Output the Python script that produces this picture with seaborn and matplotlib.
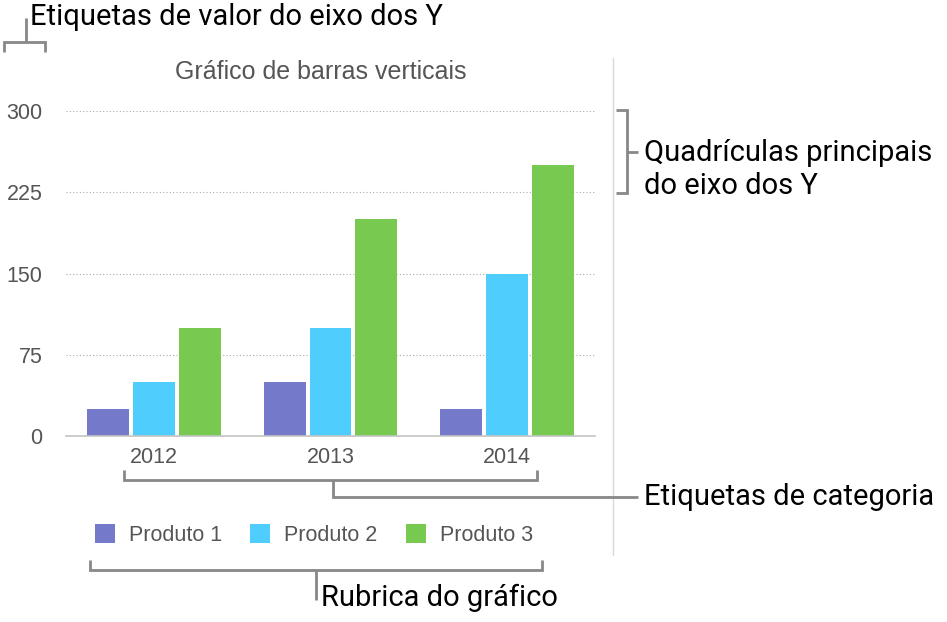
import pandas as pd
import matplotlib.pyplot as plt
import seaborn as sns
from matplotlib.lines import Line2D

# Data
anos = ["2012", "2013", "2014"]
produtos = ["Produto 1", "Produto 2", "Produto 3"]
produto_1 = [25, 50, 25]
produto_2 = [50, 100, 150]
produto_3 = [100, 200, 250]
y_ticks = [0, 75, 150, 225, 300]
cores = ["#7479C9", "#4FCDFD", "#77C94F"]

df = pd.DataFrame({
    "Ano": anos * 3,
    "Produto": [p for p in produtos for _ in anos],
    "Valor": produto_1 + produto_2 + produto_3,
})

# Style
sns.set_style("white")
plt.rcParams["font.family"] = ["Liberation Sans", "DejaVu Sans"]

W, H = 947, 622
fig = plt.figure(figsize=(W / 100, H / 100), dpi=100)
ax = fig.add_axes([66 / W, 1 - 436 / H, (595 - 66) / W, (436 - 111) / H])

sns.barplot(data=df, x="Ano", y="Valor", hue="Produto", palette=cores,
            saturation=1, width=0.78, gap=0.085, linewidth=0, ax=ax)

ax.set_xlim(-0.5, 2.5)
ax.set_ylim(0, 300)
ax.set_yticks(y_ticks)
ax.set_xlabel("")
ax.set_ylabel("")
ax.tick_params(axis="y", length=0, pad=17, labelsize=15.5, labelcolor="#555555")
ax.tick_params(axis="x", length=0, pad=8, labelsize=15.5, labelcolor="#555555")
ax.yaxis.grid(True, color="#aaaaaa", linestyle=(0, (1, 2)), linewidth=0.8)
ax.set_axisbelow(True)
sns.despine(ax=ax, left=True)
ax.spines["bottom"].set_color("#c4c4c4")
ax.spines["bottom"].set_linewidth(1.2)

# Title
fig.text(321 / W, 1 - 72 / H, "Gráfico de barras verticais", ha="center", va="center",
         fontsize=18, color="#555555")

# Legend
handles, labels = ax.get_legend_handles_labels()
ax.legend(handles, labels, loc="center", bbox_to_anchor=(314 / W, 1 - 535 / H),
          bbox_transform=fig.transFigure, ncol=3, frameon=False, fontsize=15.5,
          labelcolor="#555555", handlelength=0.93, handleheight=0.93,
          handletextpad=0.65, columnspacing=1.3)

# Separator line
fig.add_artist(Line2D([613 / W, 613 / W], [1 - 58 / H, 1 - 555 / H],
                      color="#d9d9d9", linewidth=1))


def linha(xs, ys):
    fig.add_artist(Line2D([x / W for x in xs], [1 - y / H for y in ys],
                          color="#888888", linewidth=2, solid_joinstyle="miter",
                          solid_capstyle="butt"))


# Brackets
linha([4, 4, 45, 45], [52, 42, 42, 52])
linha([26, 26], [42, 18])
linha([616, 627, 627, 616], [110, 110, 193, 193])
linha([627, 638], [152, 152])
linha([124, 124, 537, 537], [470, 480, 480, 470])
linha([333, 333, 638], [480, 497, 497])
linha([90, 90, 542, 542], [560, 570, 570, 560])
linha([316, 316], [570, 600])

# Callout texts
nota = dict(family=["Roboto", "DejaVu Sans"], fontsize=21, color="black", va="center")
fig.text(30 / W, 1 - 17 / H, "Etiquetas de valor do eixo dos Y", **nota)
fig.text(644 / W, 1 - 169.5 / H, "Quadrículas principais\ndo eixo dos Y",
         linespacing=1.2, **nota)
fig.text(644 / W, 1 - 497 / H, "Etiquetas de categoria", **nota)
fig.text(321 / W, 1 - 598 / H, "Rubrica do gráfico", **nota)

fig.savefig("out.png", dpi=100)
